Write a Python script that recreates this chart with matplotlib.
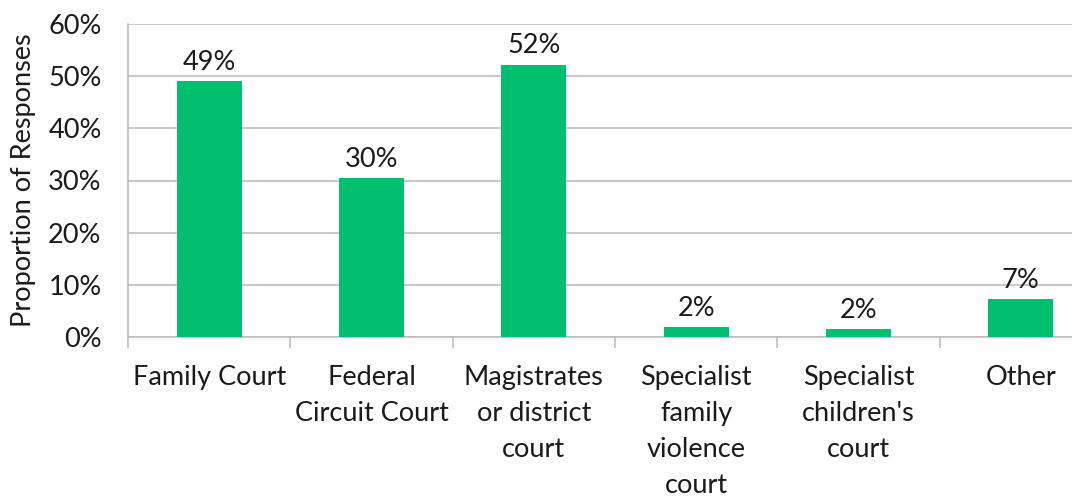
import matplotlib.pyplot as plt
from matplotlib.ticker import FixedLocator

categories = ["Family Court", "Federal\nCircuit Court", "Magistrates\nor district\ncourt",
              "Specialist\nfamily\nviolence\ncourt", "Specialist\nchildren's\ncourt", "Other"]
values = [49.1, 30.4, 52.2, 1.9, 1.5, 7.2]
labels = ["49%", "30%", "52%", "2%", "2%", "7%"]
yticks = [0, 10, 20, 30, 40, 50, 60]

plt.rcParams["font.family"] = ["Lato", "DejaVu Sans"]
fs = 19.5

fig = plt.figure(figsize=(10.72, 5.0), dpi=100)
ax = fig.add_axes([128 / 1072, 163 / 500, 974 / 1072, 313 / 500])

x = list(range(len(categories)))
bars = ax.bar(x, values, width=0.4, color="#00BF6F", zorder=3)
for b, lab in zip(bars, labels):
    ax.text(b.get_x() + b.get_width() / 2, b.get_height() + 1.2, lab,
            ha="center", va="bottom", fontsize=fs, color="#1a1a1a")

ax.set_xlim(-0.5, 5.5)
ax.set_ylim(0, 60)
ax.set_yticks(yticks)
ax.set_yticklabels([f"{t}%" for t in yticks], fontsize=fs, color="#1a1a1a")
ax.yaxis.grid(True, color="#BFBFBF", linewidth=1.2, zorder=0)
ax.tick_params(axis="y", length=0, pad=19)

ax.set_xticks(x)
ax.set_xticklabels(categories, fontsize=fs, color="#1a1a1a", linespacing=1.55, va="top")
ax.xaxis.set_minor_locator(FixedLocator([i - 0.5 for i in range(7)]))
ax.tick_params(axis="x", which="major", length=0, pad=20)
ax.tick_params(axis="x", which="minor", length=8, color="#BFBFBF", width=1.2)

for s in ["top", "right"]:
    ax.spines[s].set_visible(False)
ax.spines["left"].set_color("#BFBFBF")
ax.spines["bottom"].set_color("#BFBFBF")
ax.spines["left"].set_linewidth(1.2)
ax.spines["bottom"].set_linewidth(1.2)

ax.set_ylabel("Proportion of Responses", fontsize=fs, color="#1a1a1a", labelpad=9)

fig.savefig("out.png", dpi=100)
